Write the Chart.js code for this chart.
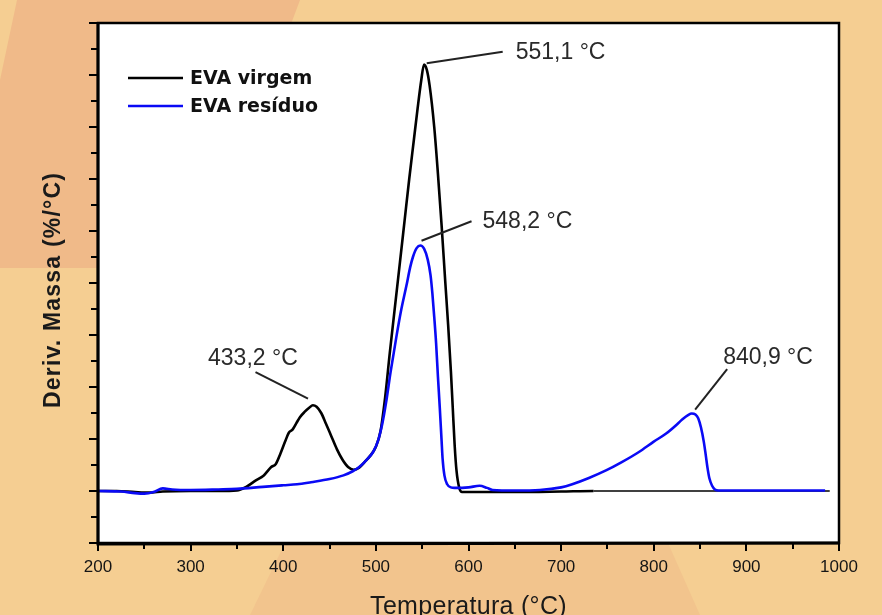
<!DOCTYPE html>
<html><head><meta charset="utf-8">
<script src="https://cdn.jsdelivr.net/npm/chart.js@4.4.1/dist/chart.umd.min.js"></script>
<style>
html,body{margin:0;padding:0;width:882px;height:615px;overflow:hidden;background:#F5CE92;}
#bg{position:absolute;left:0;top:0;}
#wrap{position:absolute;left:0;top:0;width:882px;height:615px;}
</style></head><body>
<svg id="bg" width="882" height="615">
<polygon points="17,0 300,0 285,40 98,40 98,268 0,268 0,80" fill="#F0BA89"/>
<polygon points="285,543 668,543 700,615 250,615" fill="#F2C48D"/>
</svg>
<div id="wrap"><canvas id="c" width="882" height="615"></canvas></div>
<script>
// ---- data ----
const seriesNames = ['EVA virgem', 'EVA resíduo'];
const tempVirgem = [200,220,240,255,270,300,330,350,360,370,379,387,392,397,402,406,410,414,418,423,428,432,436,441,446,452,458,464,470,476,482,488,494,500,505,510,515,520,526,531,536,541,545,549,552,555,558,563,567,571,575,578,581,583,585,587,590,593,600,620,650,700,735,800,900,990];
const valVirgem  = [0,0,-0.02,-0.03,-0.01,0,0,0.01,0.08,0.2,0.3,0.46,0.52,0.72,0.95,1.12,1.18,1.3,1.42,1.52,1.6,1.65,1.62,1.5,1.3,1.05,0.8,0.6,0.46,0.41,0.45,0.56,0.68,0.85,1.15,1.8,2.65,3.45,4.4,5.2,6.0,6.75,7.35,7.9,8.2,8.1,7.8,7.0,6.1,5.1,4.0,3.2,2.3,1.6,0.9,0.4,0.06,-0.02,-0.02,-0.02,-0.02,-0.01,0,0,0,0];
const tempResiduo = [200,225,240,250,260,270,280,300,330,350,378,400,415,430,450,465,475,482,490,497,502,507,511,516,522,527,533,537,540,544,548,552,556,559,561,563,565,567,569,571,572,574,577,581,585,600,612,620,626,650,677,700,712,730,749,765,784,800,813,825,831,837,841,845,848,851,854,856,858,860,863,866,870,900,950,985];
const valResiduo  = [0,-0.01,-0.04,-0.05,-0.02,0.05,0.03,0.02,0.03,0.04,0.08,0.11,0.13,0.17,0.23,0.3,0.38,0.46,0.6,0.75,0.95,1.3,1.7,2.3,2.95,3.45,3.95,4.3,4.5,4.67,4.72,4.66,4.45,4.15,3.8,3.35,2.85,2.2,1.6,0.95,0.63,0.3,0.13,0.07,0.06,0.07,0.1,0.06,0.02,0.01,0.02,0.07,0.13,0.25,0.4,0.55,0.75,0.95,1.1,1.28,1.38,1.46,1.49,1.47,1.4,1.22,0.95,0.71,0.45,0.25,0.1,0.03,0.01,0.01,0.01,0.01];
const peakLabels = ['551,1 °C', '548,2 °C', '433,2 °C', '840,9 °C'];
const peakTemps  = [551.1, 548.2, 433.2, 840.9];
const peakSeries = [0, 1, 0, 1];
const xTickValues = [200,300,400,500,600,700,800,900,1000];

// ---- helpers ----
const toPts = (ts, vs) => ts.map((t, i) => ({x: t, y: vs[i]}));
function valueAt(ts, vs, t){
  for (let i = 1; i < ts.length; i++) {
    if (t <= ts[i]) { const f = (t - ts[i-1]) / (ts[i] - ts[i-1]); return vs[i-1] + f * (vs[i] - vs[i-1]); }
  }
  return vs[vs.length - 1];
}
const seriesT = [tempVirgem, tempResiduo];
const seriesV = [valVirgem, valResiduo];
const colors = ['#000000', '#0a0af5'];
// leader offsets (px) relative to the peak: [x1,y1,x2,y2,textLeft,textMidY]
const leaderOffsets = [
  [3.5,-6,79.5,-17.5,92.5,-17],
  [1,-5,51,-24.5,62,-24.5],
  [-6,-7,-58.5,-33.5,-106,-47],
  [3.5,-4,35.5,-44.5,31.5,-56]
];

const decor = {
  id: 'decor',
  beforeDraw(chart){
    const {ctx, chartArea: a} = chart;
    ctx.save();
    ctx.fillStyle = '#ffffff';
    ctx.fillRect(a.left, a.top, a.right - a.left, a.bottom - a.top);
    ctx.restore();
  },
  afterDatasetsDraw(chart){
    const {ctx, chartArea: a, scales: {x, y}} = chart;
    ctx.save();
    // frame
    ctx.strokeStyle = '#000';
    ctx.lineWidth = 2.5;
    ctx.strokeRect(a.left, a.top, a.right - a.left, a.bottom - a.top);
    ctx.lineWidth = 3;
    ctx.beginPath();
    ctx.moveTo(a.left, a.top); ctx.lineTo(a.left, a.bottom + 1); ctx.lineTo(a.right + 1, a.bottom);
    ctx.stroke();
    // ticks
    ctx.lineWidth = 2;
    ctx.beginPath();
    for (let t = 200; t <= 1000; t += 50) {
      const px = Math.round(x.getPixelForValue(t));
      const len = (t % 100 === 0) ? 8 : 6;
      ctx.moveTo(px, a.bottom); ctx.lineTo(px, a.bottom + len);
    }
    for (let v = -1; v <= 9; v += 0.5) {
      const py = Math.round(y.getPixelForValue(v));
      const len = Number.isInteger(v) ? 9 : 7;
      ctx.moveTo(a.left, py); ctx.lineTo(a.left - len, py);
    }
    ctx.stroke();
    // legend
    const lx = a.left + 30;
    [0, 1].forEach(i => {
      const ly = a.top + 55 + i * 28;
      ctx.strokeStyle = colors[i];
      ctx.lineWidth = 2.5;
      ctx.beginPath(); ctx.moveTo(lx, ly); ctx.lineTo(lx + 55, ly); ctx.stroke();
      ctx.fillStyle = '#111';
      ctx.font = 'bold 19px "DejaVu Sans"';
      ctx.textAlign = 'left'; ctx.textBaseline = 'middle';
      ctx.fillText(seriesNames[i], lx + 62, ly + 1);
    });
    // peak annotations
    ctx.font = '23px "Liberation Sans"';
    ctx.fillStyle = '#2a2a2a';
    ctx.strokeStyle = '#222';
    ctx.lineWidth = 2;
    peakLabels.forEach((lab, i) => {
      const s = peakSeries[i];
      const px = x.getPixelForValue(peakTemps[i]);
      const py = y.getPixelForValue(valueAt(seriesT[s], seriesV[s], peakTemps[i]));
      const o = leaderOffsets[i];
      ctx.beginPath(); ctx.moveTo(px + o[0], py + o[1]); ctx.lineTo(px + o[2], py + o[3]); ctx.stroke();
      ctx.textAlign = 'left'; ctx.textBaseline = 'middle';
      ctx.fillText(lab, px + o[4], py + o[5]);
    });
    ctx.restore();
  },
  afterDraw(chart){
    const {ctx, chartArea: a} = chart;
    ctx.save();
    ctx.fillStyle = '#1a1a1a';
    // y title
    ctx.translate(54, 290);
    ctx.rotate(-Math.PI / 2);
    ctx.font = 'bold 23px "Liberation Sans"';
    ctx.letterSpacing = '1.2px';
    ctx.textAlign = 'center'; ctx.textBaseline = 'middle';
    ctx.fillText('Deriv. Massa (%/°C)', 0, 0);
    ctx.restore();
    ctx.save();
    ctx.fillStyle = '#1a1a1a';
    ctx.font = '25px "Liberation Sans"';
    ctx.letterSpacing = '0.3px';
    ctx.textAlign = 'center'; ctx.textBaseline = 'alphabetic';
    ctx.fillText('Temperatura (°C)', (a.left + a.right) / 2, 614);
    ctx.restore();
  }
};

new Chart(document.getElementById('c'), {
  type: 'line',
  data: {
    datasets: [
      { label: seriesNames[0], data: toPts(tempVirgem, valVirgem), borderColor: colors[0], borderWidth: 2.6,
        pointRadius: 0, cubicInterpolationMode: 'monotone', order: 1,
        segment: { borderWidth: c => (c.p0.parsed.x >= 735 ? 1.3 : 2.6) } },
      { label: seriesNames[1], data: toPts(tempResiduo, valResiduo), borderColor: colors[1], borderWidth: 2.6,
        pointRadius: 0, cubicInterpolationMode: 'monotone', order: 0 }
    ]
  },
  options: {
    responsive: false,
    animation: false,
    devicePixelRatio: 1,
    layout: { padding: { top: 23, right: 43, left: 0, bottom: 0 } },
    plugins: { legend: { display: false }, tooltip: { enabled: false } },
    scales: {
      x: {
        type: 'linear', min: 200, max: 1000,
        afterBuildTicks: s => { s.ticks = xTickValues.map(v => ({value: v})); },
        afterFit: s => { s.height = 72; },
        grid: { display: false, drawTicks: false, tickLength: 0 },
        border: { display: false },
        ticks: { font: { family: '"Liberation Sans"', size: 17 }, color: '#151515', padding: 14, maxRotation: 0, autoSkip: false,
                 callback: v => String(v) }
      },
      y: {
        type: 'linear', min: -1, max: 9,
        afterFit: s => { s.width = 98; },
        grid: { display: false, drawTicks: false, tickLength: 0 },
        border: { display: false },
        ticks: { display: false, stepSize: 0.5 }
      }
    }
  },
  plugins: [decor]
});
</script>
</body></html>
